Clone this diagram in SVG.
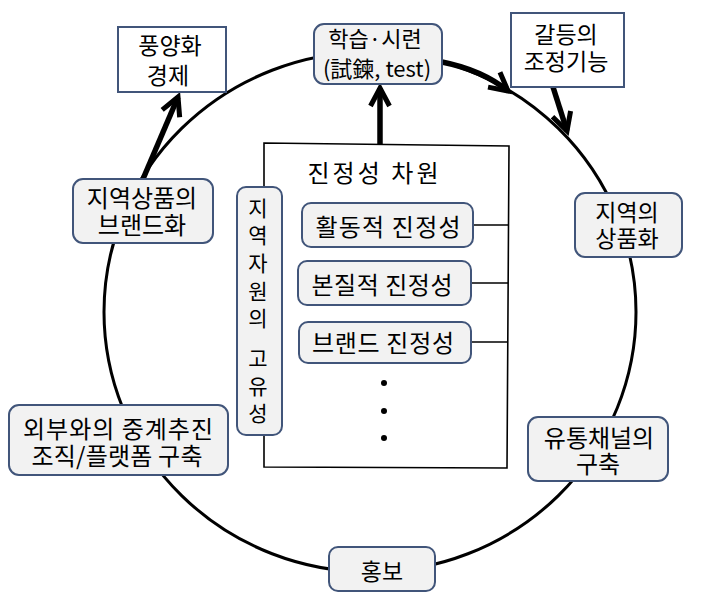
<svg xmlns="http://www.w3.org/2000/svg" width="705" height="595" viewBox="0 0 705 595">
<style>
text{font-family:"Noto Sans CJK KR","Noto Sans",sans-serif;font-size:24px;fill:#000;text-anchor:middle;dominant-baseline:central}
.m{font-size:23px}
.s{font-size:22px}
.v{font-size:21px}
.rnode{fill:#f2f2f2;stroke:#41557a;stroke-width:2}
.snode{fill:#fff;stroke:#41557a;stroke-width:2}
.thin{fill:none;stroke:#000;stroke-width:3}
.line{fill:none;stroke:#000;stroke-width:1.6}
.thick{fill:none;stroke:#000;stroke-width:5.5;marker-end:url(#chev)}
</style>
<defs>
<marker id="chev" markerUnits="userSpaceOnUse" markerWidth="24" markerHeight="24" viewBox="0 0 24 24" refX="20" refY="12" orient="auto" overflow="visible">
<path d="M2,2.5 L20,12 L2,21.5" fill="none" stroke="#000" stroke-width="5" stroke-linejoin="miter"/>
</marker>
</defs>
<rect width="705" height="595" fill="#fff"/>
<g id="connectors">
<ellipse class="thin" cx="370" cy="312" rx="266" ry="260"/>
<path class="line" d="M264,143 L509,146 L507,468 L264,467 Z" fill="#fff"/>
<line class="line" x1="473" y1="225" x2="509" y2="225"/>
<line class="line" x1="471" y1="283" x2="508" y2="283"/>
<line class="line" x1="471" y1="342" x2="507" y2="342"/>
<path class="thick" d="M380,144 L380,88"/>
<path class="thick" d="M143,179 L178,97"/>
<path class="thick" d="M442,62 Q482,70 508,91"/>
<path class="thick" d="M553,87 L567,131"/>
<circle cx="384" cy="383" r="3"/>
<circle cx="384" cy="411" r="3"/>
<circle cx="384" cy="438" r="3"/>
</g>
<g id="n-pungyang">
<rect class="snode" x="118" y="27" width="108" height="65"/>
<text class="m"><tspan x="170" y="44">풍양화</tspan><tspan x="168" dy="30">경제</tspan></text>
</g>
<g id="n-learning">
<rect class="rnode" x="314" y="24" width="128" height="60" rx="10"/>
<text class="s"><tspan x="375" y="37">학습·시련</tspan><tspan x="377" dy="30">(試鍊, test)</tspan></text>
</g>
<g id="n-conflict">
<rect class="snode" x="511" y="13" width="113" height="74"/>
<text class="m"><tspan x="566" y="33">갈등의</tspan><tspan x="566" dy="27">조정기능</tspan></text>
</g>
<g id="n-brandization">
<rect class="rnode" x="73" y="179" width="140" height="64" rx="10"/>
<text><tspan x="142" y="196">지역상품의</tspan><tspan x="142" dy="27">브랜드화</tspan></text>
</g>
<g id="n-commodification">
<rect class="rnode" x="575" y="193" width="107" height="64" rx="10"/>
<text class="m"><tspan x="627" y="211">지역의</tspan><tspan x="627" dy="26">상품화</tspan></text>
</g>
<g id="n-distribution">
<rect class="rnode" x="528" y="417" width="140" height="64" rx="10"/>
<text><tspan x="599" y="436">유통채널의</tspan><tspan x="598" dy="26">구축</tspan></text>
</g>
<g id="n-platform">
<rect class="rnode" x="9" y="405" width="219" height="70" rx="10"/>
<text><tspan x="118" y="427" textLength="190">외부와의 중계추진</tspan><tspan x="117" dy="27" textLength="171">조직/플랫폼 구축</tspan></text>
</g>
<g id="n-promotion">
<rect class="rnode" x="329" y="547" width="106" height="44" rx="9"/>
<text class="m" x="382" y="570">홍보</text>
</g>
<g id="n-authenticity">
<text x="373" y="171" textLength="131">진정성 차원</text>
</g>
<g id="n-activity">
<rect class="rnode" x="302" y="203" width="171" height="44" rx="9"/>
<text x="388" y="225" textLength="145">활동적 진정성</text>
</g>
<g id="n-essential">
<rect class="rnode" x="298" y="261" width="173" height="44" rx="9"/>
<text x="382" y="283" textLength="141">본질적 진정성</text>
</g>
<g id="n-brand">
<rect class="rnode" x="299" y="322" width="172" height="41" rx="9"/>
<text x="383" y="341" textLength="142">브랜드 진정성</text>
</g>
<g id="n-uniqueness">
<rect class="rnode" x="237" y="187" width="45" height="248" rx="9"/>
<text class="v"><tspan x="258" y="207">지</tspan><tspan x="258" y="234">역</tspan><tspan x="258" y="262">자</tspan><tspan x="258" y="290">원</tspan><tspan x="258" y="317">의</tspan><tspan x="258" y="357">고</tspan><tspan x="258" y="385">유</tspan><tspan x="258" y="412">성</tspan></text>
</g>
</svg>
